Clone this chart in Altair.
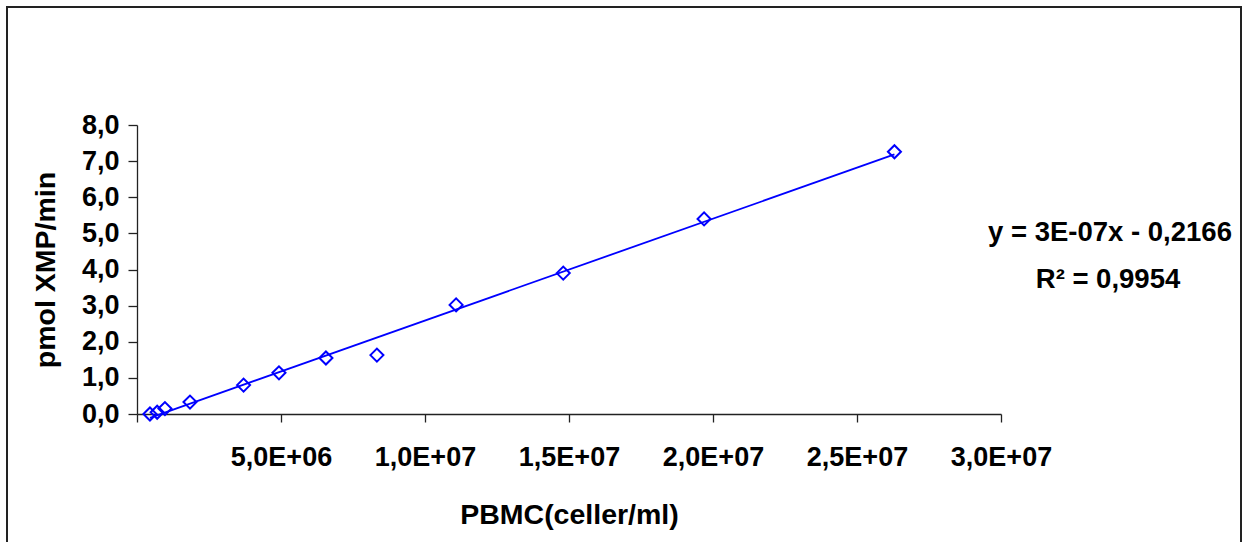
import altair as alt
import pandas as pd

# Data
pbmc = [0.45e6, 0.70e6, 0.97e6, 1.84e6, 3.70e6, 4.93e6, 6.56e6, 8.33e6,
        11.08e6, 14.80e6, 19.69e6, 26.30e6]
xmp = [0.00, 0.05, 0.15, 0.33, 0.80, 1.14, 1.55, 1.63, 3.02, 3.90, 5.40, 7.26]

x_ticks = [0, 5e6, 1e7, 1.5e7, 2e7, 2.5e7, 3e7]
y_ticks = [0, 1, 2, 3, 4, 5, 6, 7, 8]

eq_lines = ["y = 3E-07x - 0,2166", "R² = 0,9954"]

df = pd.DataFrame({"x": pbmc, "y": xmp})

FONT = "Liberation Sans"
BLUE = "#0000FF"

x_label_expr = ("datum.value == 0 ? '' : (datum.value < 1e7 ? "
                "replace(format(datum.value/1e6, '.1f'), '.', ',') + 'E+06' : "
                "replace(format(datum.value/1e7, '.1f'), '.', ',') + 'E+07')")
y_label_expr = "replace(format(datum.value, '.1f'), '.', ',')"

xenc = alt.X("x:Q", scale=alt.Scale(domain=[0, 3e7], nice=False),
             axis=alt.Axis(values=x_ticks, labelExpr=x_label_expr, grid=False,
                           title="PBMC(celler/ml)", tickSize=8, labelPadding=22,
                           labelBaseline="top", labelFlush=False, labelOverlap=False,
                           titleX=432, titleY=100, titleBaseline="middle",
                           titleAlign="center"))
yenc = alt.Y("y:Q", scale=alt.Scale(domain=[0, 8], nice=False),
             axis=alt.Axis(values=y_ticks, labelExpr=y_label_expr, grid=False,
                           title="pmol XMP/min", tickSize=9, labelPadding=9,
                           labelFlush=False, labelOverlap=False,
                           titleX=-92, titleY=144.5, titleAngle=-90,
                           titleBaseline="middle", titleAlign="center"))

points = alt.Chart(df).mark_point(shape="diamond", filled=False, color=BLUE,
                                  size=170, strokeWidth=2, opacity=1).encode(x=xenc, y=yenc)

trend = alt.Chart(df).mark_line(color=BLUE, strokeWidth=1.8).transform_regression(
    "x", "y", method="linear").encode(x=xenc, y=yenc)

border = alt.Chart(df).mark_rect(fill=None, stroke="#222222", strokeWidth=2).encode(
    x=alt.value(-130), x2=alt.value(1104), y=alt.value(-118), y2=alt.value(700))

eq1 = alt.Chart(pd.DataFrame({"t": [eq_lines[0]]})).mark_text(
    font=FONT, fontWeight="bold", fontSize=27.5, align="center", baseline="middle",
    color="black").encode(text="t:N", x=alt.value(973), y=alt.value(108))
eq2 = alt.Chart(pd.DataFrame({"t": [eq_lines[1]]})).mark_text(
    font=FONT, fontWeight="bold", fontSize=27.5, align="center", baseline="middle",
    color="black").encode(text="t:N", x=alt.value(971), y=alt.value(155))

chart = alt.layer(border, trend, points, eq1, eq2).properties(
    width=864, height=289,
    autosize=alt.AutoSizeParams(type="none"),
    padding={"left": 137, "top": 125, "right": 243, "bottom": 128},
).configure_view(stroke=None).configure_axis(
    labelFont=FONT, titleFont=FONT, labelFontWeight="bold", titleFontWeight="bold",
    labelFontSize=27, titleFontSize=28.5, labelColor="black", titleColor="black",
    domainColor="#222222", tickColor="#222222", domainWidth=1.3, tickWidth=1.3,
)

chart.save("out.html", embed_options={"renderer": "svg", "actions": False})
